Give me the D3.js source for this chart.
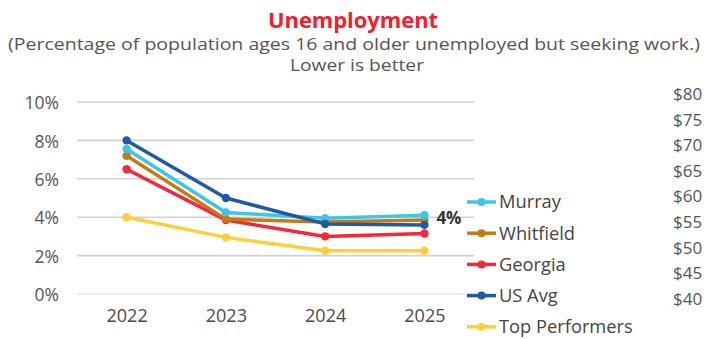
<!DOCTYPE html>
<html>
<head>
<meta charset="utf-8">
<script src="https://cdn.jsdelivr.net/npm/d3@7"></script>
<style>
  html, body { margin: 0; padding: 0; background: #fff; }
  svg { display: block; font-family: "Open Sans", Lato, sans-serif; }
</style>
</head>
<body>
<svg id="chart" width="705" height="339"></svg>
<script>
// Years on the x axis
const years = ["2022", "2023", "2024", "2025"];

// Unemployment rate (%) by area
const murray        = [7.55, 4.25, 3.95, 4.1];
const whitfield     = [7.2, 3.9, 3.75, 3.85];
const georgia       = [6.5, 3.85, 3.0, 3.15];
const usAvg         = [8.0, 5.0, 3.65, 3.6];
const topPerformers = [4.0, 2.95, 2.25, 2.25];

const seriesNames = ["Murray", "Whitfield", "Georgia", "US Avg", "Top Performers"];
const seriesColors = ["#3ec5e8", "#c77a12", "#f5283b", "#1d5aa8", "#fecf3a"];

// Percent axis ticks
const yTicks = [0, 2, 4, 6, 8, 10];

// Secondary dollar axis labels shown at the right edge
const dollarLabels = ["$80", "$75", "$70", "$65", "$60", "$55", "$50", "$45", "$40"];

const seriesValues = [murray, whitfield, georgia, usAvg, topPerformers];
const series = seriesNames.map((name, i) => ({
  name, color: seriesColors[i], values: seriesValues[i]
}));

const svg = d3.select("#chart");
const textGrey = "#555";

// Titles
svg.append("text")
  .attr("x", 353).attr("y", 28)
  .attr("text-anchor", "middle")
  .attr("font-size", 22).attr("font-weight", 700)
  .attr("fill", "#f2202f")
  .attr("textLength", 170).attr("lengthAdjust", "spacingAndGlyphs")
  .text("Unemployment");
svg.append("text")
  .attr("x", 354).attr("y", 50)
  .attr("text-anchor", "middle")
  .attr("font-size", 15.5).attr("fill", textGrey)
  .attr("textLength", 692).attr("lengthAdjust", "spacingAndGlyphs")
  .text("(Percentage of population ages 16 and older unemployed but seeking work.)");
svg.append("text")
  .attr("x", 357).attr("y", 71)
  .attr("text-anchor", "middle")
  .attr("font-size", 15.5).attr("fill", textGrey)
  .attr("textLength", 134).attr("lengthAdjust", "spacingAndGlyphs")
  .text("Lower is better");

// Scales
const x = d3.scalePoint().domain(years).range([126.6, 424.4]);
const y = d3.scaleLinear().domain([0, 10]).range([294, 102]);
const gridX0 = 77, gridX1 = 474;

// Gridlines
svg.append("g")
  .selectAll("line")
  .data(yTicks)
  .join("line")
  .attr("x1", gridX0).attr("x2", gridX1)
  .attr("y1", d => y(d)).attr("y2", d => y(d))
  .attr("stroke", d => d === 0 ? "#e2e6ee" : "#d2d2d2")
  .attr("stroke-width", 1.6);

// Y axis labels
const yAxis = d3.axisLeft(y).tickValues(yTicks).tickFormat(d => d + "%").tickSize(0).tickPadding(0);
const gy = svg.append("g").attr("transform", "translate(59,1)").call(yAxis);
gy.select(".domain").remove();
gy.selectAll("text")
  .attr("font-family", "'Open Sans', Lato, sans-serif")
  .attr("font-size", 17.5).attr("fill", textGrey);

// X axis labels
const xAxis = d3.axisBottom(x).tickSize(0).tickPadding(0);
const gx = svg.append("g").attr("transform", "translate(0,309)").call(xAxis);
gx.select(".domain").remove();
gx.selectAll("text")
  .attr("font-family", "'Open Sans', Lato, sans-serif")
  .attr("font-size", 18).attr("fill", "#4a4a4a");

// Lines and markers (Top Performers drawn first so it sits underneath)
const line = d3.line().x((d, i) => x(years[i])).y(d => y(d));
const drawOrder = [4, 2, 1, 0, 3];
const gLines = svg.append("g");
drawOrder.forEach(k => {
  const s = series[k];
  const g = gLines.append("g");
  g.append("path")
    .attr("d", line(s.values))
    .attr("fill", "none")
    .attr("stroke", s.color)
    .attr("stroke-width", 3.5)
    .attr("stroke-linejoin", "round");
  g.selectAll("circle")
    .data(s.values)
    .join("circle")
    .attr("cx", (d, i) => x(years[i]))
    .attr("cy", d => y(d))
    .attr("r", 4.2)
    .attr("fill", s.color);
});

// Value label on the last Murray point
const lastMurray = murray[murray.length - 1];
svg.append("text")
  .attr("x", x(years[3]) + 12).attr("y", y(lastMurray) + 9)
  .attr("font-size", 17).attr("font-weight", 700)
  .attr("fill", "#333")
  .text(Math.round(lastMurray) + "%");

// Legend
const legend = svg.append("g").attr("transform", "translate(467,0)");
series.forEach((s, i) => {
  const ly = 202 + i * 31.2;
  const item = legend.append("g").attr("transform", `translate(0,${ly})`);
  item.append("line")
    .attr("x1", 0).attr("x2", 29).attr("y1", 0).attr("y2", 0)
    .attr("stroke", s.color).attr("stroke-width", 3.5);
  item.append("circle").attr("cx", 14.5).attr("cy", 0).attr("r", 4).attr("fill", s.color);
  item.append("text")
    .attr("x", 32).attr("y", 0).attr("dy", "0.35em")
    .attr("font-size", 18.3).attr("fill", "#444")
    .text(s.name);
});

// Dollar axis labels at the right edge
const yDollar = d3.scalePoint().domain(dollarLabels).range([94, 299]);
svg.append("g")
  .selectAll("text")
  .data(dollarLabels)
  .join("text")
  .attr("x", 673).attr("y", d => yDollar(d)).attr("dy", "0.35em")
  .attr("font-size", 17).attr("fill", textGrey)
  .text(d => d);
</script>
</body>
</html>
